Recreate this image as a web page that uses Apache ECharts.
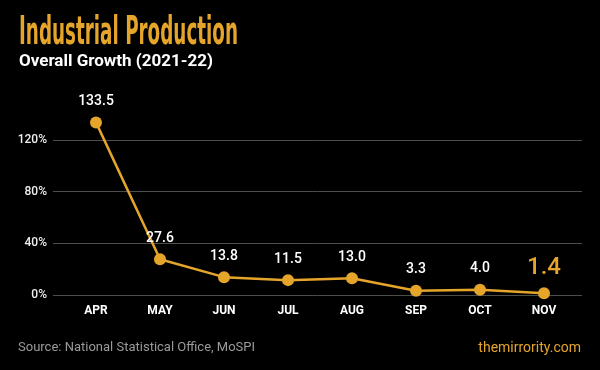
<!DOCTYPE html>
<html><head><meta charset="utf-8">
<script src="https://cdn.jsdelivr.net/npm/echarts@6/dist/echarts.min.js"></script>
<style>html,body{margin:0;padding:0;background:#000;}#c{width:600px;height:370px;}</style>
</head><body><div id="c"></div>
<script>
const months = ['APR','MAY','JUN','JUL','AUG','SEP','OCT','NOV'];
const growth = [133.5, 27.6, 13.8, 11.5, 13.0, 3.3, 4.0, 1.4];
const yTicks = [0, 40, 80, 120];
const titleText = 'Industrial Production';
const subtitleText = 'Overall Growth (2021-22)';
const sourceText = 'Source: National Statistical Office, MoSPI';
const siteText = 'themirrority.com';

const GOLD = '#E5A52B';
const titleFont = 'bold 39px "Liberation Sans Narrow", "DejaVu Sans Condensed", sans-serif';
const cv = document.createElement('canvas').getContext('2d');
cv.font = titleFont;
const tw = cv.measureText(titleText).width;
const sx = 219 / tw;

const chart = echarts.init(document.getElementById('c'), null, {renderer:'canvas'});
const yAxisBase = {min: 0, max: 140, interval: 40};
chart.setOption({
  backgroundColor: '#000',
  animation: false,
  grid: [
    {left: 53, right: 18, top: 114, bottom: 75},
    {left: 64, right: 24, top: 114, bottom: 75}
  ],
  xAxis: [
    {gridIndex: 0, type: 'category', data: months, show: false},
    {gridIndex: 1, type: 'category', data: months, boundaryGap: true,
     axisLine: {show: false}, axisTick: {show: false}, splitLine: {show: false},
     axisLabel: {color: '#fff', fontFamily: 'Roboto', fontSize: 12, fontWeight: 'bold', margin: 10}}
  ],
  yAxis: [
    Object.assign({gridIndex: 0, type: 'value',
     axisLine: {show: false}, axisTick: {show: false},
     splitLine: {show: true, showMaxLine: false, lineStyle: {color: '#4d4d4d', width: 1}},
     axisLabel: {color: '#eeeeee', fontFamily: 'Roboto', fontSize: 12, fontWeight: 500, margin: 6, showMaxLabel: false,
       formatter: v => yTicks.indexOf(v) >= 0 ? v + '%' : ''}}, yAxisBase),
    Object.assign({gridIndex: 1, type: 'value', show: false, splitLine: {show: false}}, yAxisBase)
  ],
  series: [{
    type: 'line', xAxisIndex: 1, yAxisIndex: 1,
    data: growth.map((v, i) => i === growth.length - 1 ? {value: v, label: {color: GOLD, fontSize: 24, fontWeight: 500, distance: 7}} : v),
    clip: false,
    symbol: 'circle', symbolSize: 12,
    lineStyle: {color: GOLD, width: 2.5},
    itemStyle: {color: GOLD},
    label: {show: true, position: 'top', distance: 8, color: '#fff', fontFamily: 'Roboto', fontSize: 14, fontWeight: 500,
      formatter: p => Number(p.value).toFixed(1)}
  }],
  graphic: [
    {type: 'text', x: 19, y: 34, scaleX: sx, scaleY: 1,
     style: {text: titleText, font: titleFont, fill: GOLD, verticalAlign: 'middle'}},
    {type: 'text', x: 19, y: 62,
     style: {text: subtitleText, font: 'bold 17px Roboto', fill: '#fff', verticalAlign: 'middle'}},
    {type: 'text', x: 18, y: 348,
     style: {text: sourceText, font: '13px Roboto', fill: '#9a9a9a', verticalAlign: 'middle'}},
    {type: 'text', x: 581, y: 348,
     style: {text: siteText, font: '14px Roboto', fill: GOLD, align: 'right', verticalAlign: 'middle'}}
  ]
});
</script></body></html>
